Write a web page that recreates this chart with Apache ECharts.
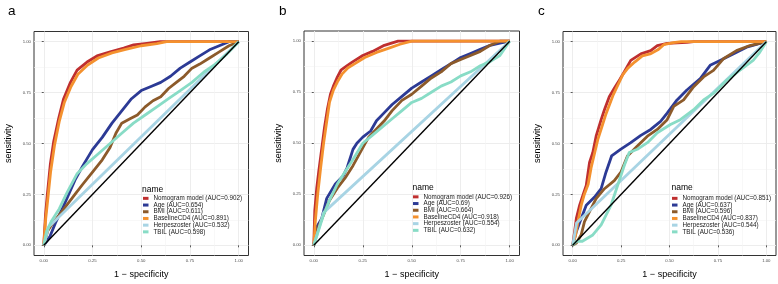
<!DOCTYPE html>
<html>
<head>
<meta charset="utf-8">
<script src="https://cdn.jsdelivr.net/npm/echarts@6/dist/echarts.min.js"></script>
<style>
  html, body { margin: 0; padding: 0; background: #fff; }
  #chart { width: 778px; height: 284px; }
</style>
</head>
<body>
<div id="chart"></div>
<script>
// 数据
const panelLetters = ['a', 'b', 'c']
const modelNames = ['Nomogram model', 'Age', 'BMI', 'BaselineCD4', 'Herpeszoster', 'TBIL']
const aucA = ['0.902', '0.654', '0.611', '0.891', '0.532', '0.598']
const aucB = ['0.926', '0.69', '0.664', '0.918', '0.554', '0.632']
const aucC = ['0.851', '0.637', '0.596', '0.837', '0.544', '0.536']
const tickValues = [0, 0.25, 0.5, 0.75, 1]
const minorValues = [0.125, 0.375, 0.625, 0.875]
const diagonal = [[0, 0], [1, 1]]

// [1 - specificity, sensitivity]
const aNomogram = [[0,0],[0.009,0.15],[0.017,0.235],[0.034,0.4],[0.051,0.51],[0.077,0.625],[0.102,0.72],[0.137,0.8],[0.171,0.86],[0.222,0.9],[0.273,0.93],[0.341,0.95],[0.41,0.968],[0.461,0.984],[0.529,0.992],[0.597,1],[1,1]]
const aAge = [[0,0],[0.03,0.04],[0.06,0.11],[0.1,0.19],[0.16,0.32],[0.2,0.39],[0.25,0.47],[0.3,0.53],[0.35,0.6],[0.4,0.66],[0.45,0.72],[0.5,0.76],[0.55,0.78],[0.6,0.8],[0.65,0.83],[0.7,0.87],[0.75,0.9],[0.8,0.93],[0.85,0.96],[0.9,0.98],[0.95,1],[1,1]]
const aBMI = [[0,0],[0.02,0.07],[0.04,0.1],[0.08,0.15],[0.12,0.2],[0.16,0.25],[0.2,0.3],[0.25,0.36],[0.3,0.42],[0.34,0.48],[0.37,0.55],[0.4,0.6],[0.44,0.62],[0.48,0.64],[0.52,0.68],[0.56,0.71],[0.6,0.73],[0.64,0.77],[0.68,0.8],[0.72,0.83],[0.76,0.87],[0.8,0.89],[0.85,0.92],[0.9,0.95],[0.95,0.98],[1,1]]
const aBaseline = [[0,0],[0.01,0.13],[0.02,0.22],[0.035,0.36],[0.055,0.49],[0.08,0.61],[0.105,0.7],[0.14,0.78],[0.175,0.84],[0.225,0.885],[0.28,0.92],[0.35,0.945],[0.42,0.962],[0.5,0.98],[0.58,0.99],[0.63,1],[1,1]]
const aHerpes = [[0,0],[0.025,0.09],[1,1]]
const aTBIL = [[0,0],[0.015,0.07],[0.04,0.12],[0.08,0.18],[0.12,0.26],[0.17,0.35],[0.22,0.4],[0.28,0.45],[0.34,0.5],[0.4,0.55],[0.46,0.6],[0.52,0.64],[0.58,0.68],[0.64,0.72],[0.7,0.76],[0.76,0.8],[0.82,0.85],[0.88,0.89],[0.94,0.94],[1,1]]

const bNomogram = [[0,0],[0.005,0.17],[0.015,0.28],[0.025,0.36],[0.04,0.47],[0.055,0.58],[0.07,0.67],[0.085,0.74],[0.1,0.78],[0.118,0.82],[0.14,0.86],[0.17,0.88],[0.2,0.9],[0.25,0.93],[0.3,0.95],[0.36,0.98],[0.43,1],[1,1]]
const bAge = [[0,0],[0.015,0.09],[0.04,0.13],[0.066,0.23],[0.11,0.3],[0.15,0.34],[0.17,0.38],[0.2,0.47],[0.22,0.5],[0.25,0.53],[0.29,0.56],[0.32,0.61],[0.36,0.65],[0.4,0.69],[0.45,0.73],[0.5,0.77],[0.55,0.8],[0.6,0.83],[0.65,0.86],[0.7,0.89],[0.75,0.92],[0.8,0.94],[0.85,0.96],[0.9,0.98],[0.95,0.99],[1,1]]
const bBMI = [[0,0],[0.02,0.08],[0.05,0.15],[0.08,0.22],[0.12,0.28],[0.16,0.33],[0.2,0.39],[0.24,0.46],[0.28,0.53],[0.32,0.57],[0.36,0.61],[0.4,0.66],[0.45,0.71],[0.5,0.74],[0.55,0.78],[0.6,0.82],[0.65,0.85],[0.7,0.89],[0.75,0.91],[0.8,0.93],[0.85,0.95],[0.9,0.98],[0.95,1],[1,1]]
const bBaseline = [[0,0],[0.008,0.12],[0.02,0.25],[0.035,0.38],[0.05,0.5],[0.065,0.6],[0.08,0.7],[0.1,0.76],[0.12,0.8],[0.145,0.84],[0.175,0.87],[0.21,0.89],[0.26,0.92],[0.32,0.945],[0.38,0.965],[0.44,0.985],[0.5,1],[1,1]]
const bHerpes = [[0,0],[0.05,0.16],[1,1]]
const bTBIL = [[0,0],[0.02,0.06],[0.05,0.15],[0.08,0.22],[0.12,0.3],[0.16,0.36],[0.2,0.42],[0.25,0.5],[0.3,0.54],[0.35,0.58],[0.4,0.62],[0.45,0.66],[0.5,0.7],[0.55,0.72],[0.6,0.75],[0.65,0.78],[0.7,0.8],[0.75,0.83],[0.8,0.85],[0.85,0.88],[0.9,0.9],[0.95,0.93],[1,1]]

const cNomogram = [[0,0],[0.01,0.068],[0.019,0.132],[0.036,0.197],[0.053,0.246],[0.07,0.294],[0.087,0.407],[0.104,0.456],[0.121,0.536],[0.147,0.617],[0.164,0.666],[0.189,0.73],[0.215,0.771],[0.241,0.811],[0.266,0.851],[0.3,0.908],[0.352,0.94],[0.403,0.956],[0.437,0.981],[0.488,0.992],[0.59,0.997],[0.625,1],[1,1]]
const cAge = [[0,0],[0.019,0.068],[0.044,0.132],[0.07,0.197],[0.113,0.237],[0.147,0.278],[0.172,0.359],[0.201,0.439],[0.249,0.472],[0.3,0.504],[0.352,0.54],[0.403,0.569],[0.454,0.609],[0.488,0.649],[0.539,0.714],[0.59,0.763],[0.659,0.819],[0.71,0.884],[0.761,0.908],[0.829,0.94],[0.898,0.973],[1,1]]
const cBMI = [[0,0],[0.019,0.011],[0.044,0.052],[0.061,0.116],[0.087,0.165],[0.121,0.229],[0.164,0.278],[0.215,0.318],[0.249,0.359],[0.283,0.439],[0.334,0.488],[0.386,0.536],[0.437,0.569],[0.488,0.617],[0.522,0.682],[0.573,0.714],[0.625,0.779],[0.676,0.827],[0.727,0.859],[0.778,0.916],[0.846,0.956],[0.915,0.981],[1,1]]
const cBaseline = [[0,0],[0.015,0.05],[0.03,0.13],[0.045,0.2],[0.06,0.25],[0.08,0.3],[0.095,0.38],[0.11,0.44],[0.13,0.52],[0.15,0.58],[0.17,0.64],[0.19,0.69],[0.21,0.74],[0.235,0.79],[0.26,0.84],[0.285,0.87],[0.32,0.9],[0.36,0.93],[0.4,0.94],[0.44,0.96],[0.47,0.985],[0.52,0.995],[0.56,1],[1,1]]
const cHerpes = [[0,0],[0.02,0.11],[1,1]]
const cTBIL = [[0,0],[0.02,0.02],[0.05,0.02],[0.078,0.036],[0.104,0.051],[0.147,0.1],[0.198,0.197],[0.232,0.294],[0.266,0.391],[0.292,0.456],[0.334,0.472],[0.386,0.504],[0.437,0.553],[0.505,0.593],[0.556,0.617],[0.625,0.666],[0.676,0.714],[0.727,0.746],[0.795,0.811],[0.863,0.859],[0.932,0.908],[0.966,0.948],[1,1]]

const panelData = [
  [aNomogram, aAge, aBMI, aBaseline, aHerpes, aTBIL],
  [bNomogram, bAge, bBMI, bBaseline, bHerpes, bTBIL],
  [cNomogram, cAge, cBMI, cBaseline, cHerpes, cTBIL],
]
const panelAuc = [aucA, aucB, aucC]

// 样式
const colors = ['#BF2F2F', '#2C3A95', '#8C5A2A', '#F4912E', '#A8D4E4', '#88DCC6']
const font = 'Liberation Sans, Arial, sans-serif'
const grids = [
  { left: 34, top: 31.5, width: 214.5, height: 227 },
  { left: 304, top: 31, width: 215.5, height: 227 },
  { left: 563, top: 31.5, width: 213, height: 226 },
]
const legendPos = [
  { left: 143, top: 195, nameLeft: 142, nameTop: 185.5 },
  { left: 413, top: 193.5, nameLeft: 412.5, nameTop: 183.5 },
  { left: 672, top: 195, nameLeft: 671.5, nameTop: 183.5 },
]
const letterPos = [8, 279, 538]

const chart = echarts.init(document.getElementById('chart'), null, { renderer: 'canvas' })

const option = {
  animation: false,
  backgroundColor: '#fff',
  title: [],
  legend: [],
  grid: [],
  xAxis: [],
  yAxis: [],
  series: [],
}

function mainAxis(i, isX) {
  const ax = {
    gridIndex: i,
    type: 'value',
    min: -0.05,
    max: 1.05,
    axisLine: { show: false },
    axisTick: {
      show: true,
      length: 2,
      customValues: tickValues,
      lineStyle: { color: '#333', width: 0.8 },
    },
    axisLabel: {
      customValues: tickValues,
      fontSize: 4.3,
      color: '#4D4D4D',
      margin: 3,
      fontFamily: font,
      formatter: (v) => v.toFixed(2),
    },
    splitLine: { show: true, lineStyle: { color: '#EBEBEB', width: 0.9 } },
    nameLocation: 'middle',
    nameTextStyle: { fontSize: 9, color: '#000', fontFamily: font },
  }
  if (isX) {
    ax.name = '1 − specificity'
    ax.nameGap = 14.5
  } else {
    ax.name = 'sensitivity'
    ax.nameGap = 21
    ax.nameRotate = 90
  }
  return ax
}

function minorAxis(i, isX) {
  return {
    gridIndex: i,
    type: 'value',
    position: isX ? 'top' : 'right',
    min: -0.05,
    max: 1.05,
    axisLine: { show: false },
    axisTick: { show: false, customValues: minorValues },
    axisLabel: { show: false, customValues: minorValues },
    splitLine: { show: true, lineStyle: { color: '#F3F3F3', width: 0.6 } },
  }
}

panelData.forEach((curves, i) => {
  option.grid.push({
    ...grids[i],
    show: true,
    borderColor: '#333',
    borderWidth: 1,
    backgroundColor: '#fff',
  })
  option.xAxis.push(mainAxis(i, true), minorAxis(i, true))
  option.yAxis.push(mainAxis(i, false), minorAxis(i, false))

  const names = modelNames.map((m, j) => `${m} (AUC=${panelAuc[i][j]})`)
  curves.forEach((pts, j) => {
    option.series.push({
      name: names[j],
      type: 'line',
      xAxisIndex: i * 2,
      yAxisIndex: i * 2,
      data: pts,
      symbol: 'none',
      color: colors[j],
      lineStyle: { width: 2.8, color: colors[j], join: 'round' },
      emphasis: { disabled: true },
    })
  })
  // 对角参考线
  option.series.push({
    name: 'ref' + i,
    type: 'line',
    xAxisIndex: i * 2,
    yAxisIndex: i * 2,
    data: diagonal,
    symbol: 'none',
    lineStyle: { width: 1.4, color: '#000' },
    emphasis: { disabled: true },
  })

  option.legend.push({
    data: names,
    orient: 'vertical',
    left: legendPos[i].left,
    top: legendPos[i].top,
    padding: 0,
    itemGap: 0,
    itemWidth: 5.5,
    itemHeight: 3,
    icon: 'rect',
    selectedMode: false,
    textStyle: { fontSize: 6.3, lineHeight: 6.7, color: '#1A1A1A', fontFamily: font },
  })

  option.title.push(
    {
      text: panelLetters[i],
      left: letterPos[i],
      top: 4,
      padding: 0,
      textStyle: { fontSize: 13.5, fontWeight: 'normal', color: '#000', fontFamily: font },
    },
    {
      text: 'name',
      left: legendPos[i].nameLeft,
      top: legendPos[i].nameTop,
      padding: 0,
      textStyle: { fontSize: 8.5, fontWeight: 'normal', color: '#000', fontFamily: font },
    }
  )
})

chart.setOption(option)
</script>
</body>
</html>
